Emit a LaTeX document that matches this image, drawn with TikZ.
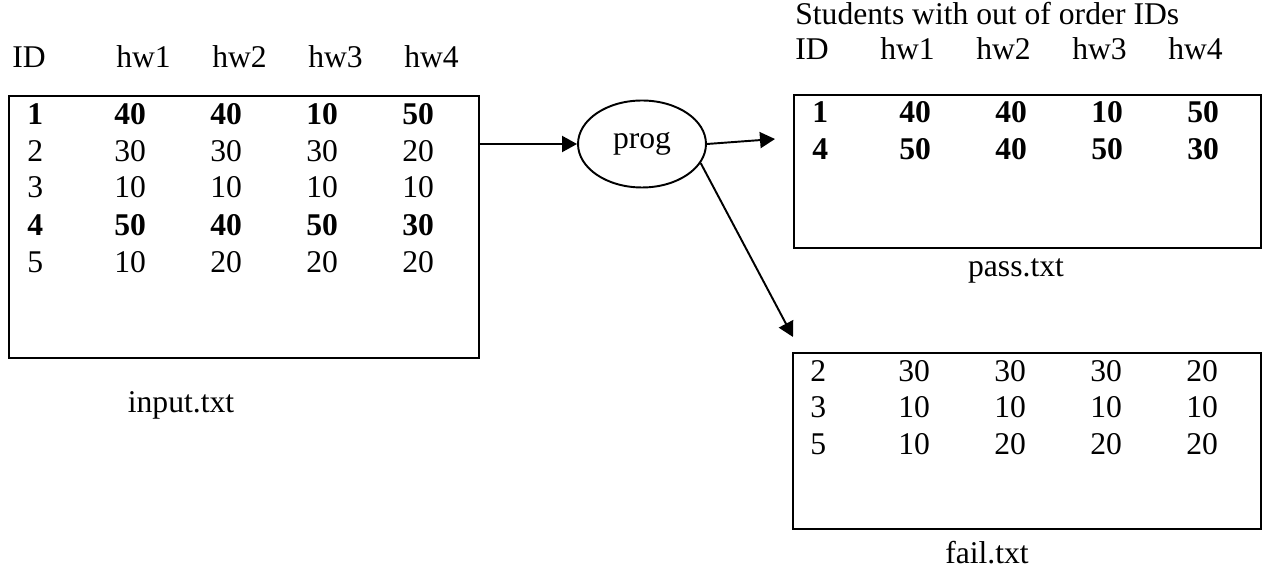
\documentclass[tikz,border=0pt]{standalone}
\usepackage{fontspec}
\setmainfont{Liberation Serif}
\usetikzlibrary{positioning, arrows.meta, shapes.geometric}

% one line of a score file: ID then four homework columns
\newcommand{\scorerow}[6][1.74cm]{%
  \makebox[#1][l]{#2}\makebox[1.92cm][l]{#3}\makebox[1.92cm][l]{#4}%
  \makebox[1.92cm][l]{#5}#6}

\begin{document}
\begin{tikzpicture}[
  x=0.02cm, y=-0.02cm,
  txt/.style={anchor=base west, inner sep=0, font=\fontsize{18}{22}\selectfont},
  caption/.style={anchor=base, inner sep=0, font=\fontsize{18}{22}\selectfont},
  filebox/.style={draw, line width=1.1pt, anchor=north west, inner sep=0},
  proc/.style={draw, ellipse, line width=1.1pt, minimum width=2.56cm,
               minimum height=1.74cm, inner sep=0, font=\fontsize{18}{22}\selectfont},
  arr/.style={-{Triangle[length=3mm, width=3.2mm]}, line width=1.1pt}
]
\useasboundingbox (0,0) rectangle (1264,570);

% Input file
\node[txt] (inhead) at (12,68) {\scorerow[2.08cm]{ID}{hw1}{hw2}{hw3}{hw4}};
\node[filebox, minimum width=9.4cm, minimum height=5.24cm] (inbox) at (8,95) {};
\node[txt] (in1) at (27,125) {\bfseries\scorerow{1}{40}{40}{10}{50}};
\node[txt] (in2) at (27,162) {\scorerow{2}{30}{30}{30}{20}};
\node[txt] (in3) at (27,198) {\scorerow{3}{10}{10}{10}{10}};
\node[txt] (in4) at (27,236) {\bfseries\scorerow{4}{50}{40}{50}{30}};
\node[txt] (in5) at (27,273) {\scorerow{5}{10}{20}{20}{20}};
\node[caption] (inname) at (181,413) {input.txt};

% Program
\node[proc] (prog) at (642,144) {prog};

% Pass file
\node[txt] (passtitle) at (795,25) {Students with out of order IDs};
\node[txt] (passhead) at (795,60) {\scorerow[1.7cm]{ID}{hw1}{hw2}{hw3}{hw4}};
\node[filebox, minimum width=9.34cm, minimum height=3.06cm] (passbox) at (793,94) {};
\node[txt] (pass1) at (812,123) {\bfseries\scorerow{1}{40}{40}{10}{50}};
\node[txt] (pass2) at (812,160) {\bfseries\scorerow{4}{50}{40}{50}{30}};
\node[caption] (passname) at (1016,277) {pass.txt};

% Fail file
\node[filebox, minimum width=9.36cm, minimum height=3.52cm] (failbox) at (792,352) {};
\node[txt] (fail1) at (810,382) {\scorerow[1.76cm]{2}{30}{30}{30}{20}};
\node[txt] (fail2) at (810,418) {\scorerow[1.76cm]{3}{10}{10}{10}{10}};
\node[txt] (fail3) at (810,455) {\scorerow[1.76cm]{5}{10}{20}{20}{20}};
\node[caption] (failname) at (987,563) {fail.txt};

% Arrows
\coordinate (passin) at (775,139);
\coordinate (failin) at (793,337);
\draw[arr] (inbox.east |- prog.west) -- (prog.west);
\draw[arr] (prog.east) -- (passin);
\draw[arr] (prog.-18) -- (failin);

\end{tikzpicture}
\end{document}
